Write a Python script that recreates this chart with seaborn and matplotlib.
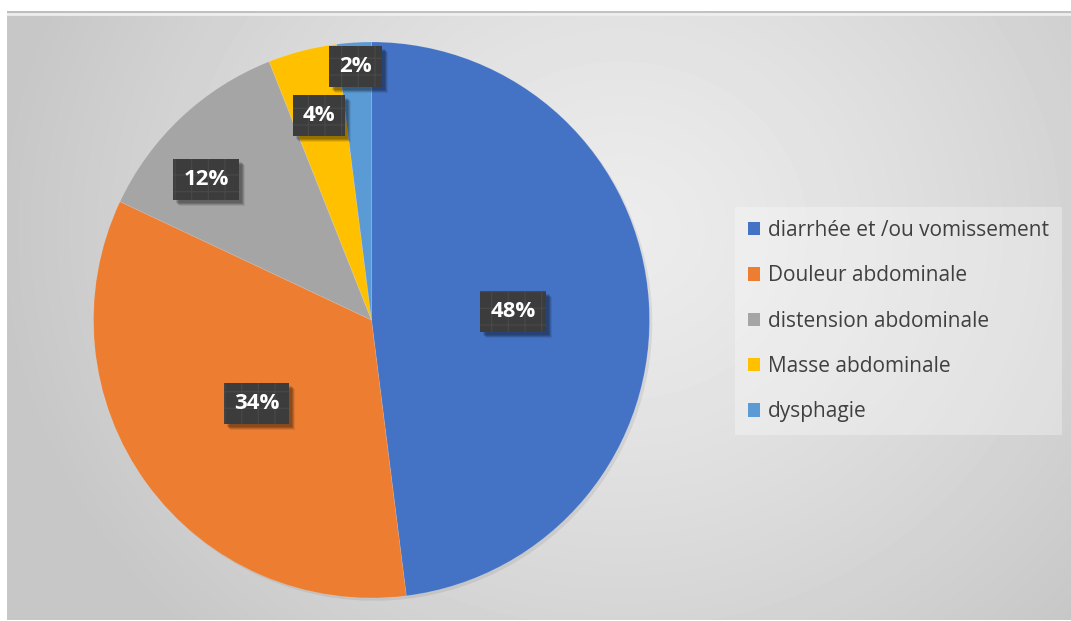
import numpy as np
import matplotlib
matplotlib.use("Agg")
import matplotlib.pyplot as plt
import matplotlib.transforms as mtransforms
from matplotlib.patches import Patch, Rectangle
import seaborn as sns

# Symptom categories and their shares (%)
categories = ["diarrhée et /ou vomissement", "Douleur abdominale",
              "distension abdominale", "Masse abdominale", "dysphagie"]
shares = [48, 34, 12, 4, 2]
pct_labels = ["48%", "34%", "12%", "4%", "2%"]

slice_colors = ["#4472C4", "#ED7D31", "#A5A5A5", "#FFC000", "#5B9BD5"]

sns.set_theme(style="white")
plt.rcParams["font.family"] = ["Open Sans", "DejaVu Sans"]

W, H = 1071, 621
fig = plt.figure(figsize=(W / 100, H / 100), dpi=100)
fig.patch.set_facecolor("white")

# --- chart-area background: soft radial gradient ---
bg_left, bg_top, bg_right, bg_bottom = 7, 11, 1071, 620
bg = fig.add_axes([bg_left / W, 1 - bg_bottom / H,
                   (bg_right - bg_left) / W, (bg_bottom - bg_top) / H])
bg.set_axis_off()
xs = np.arange(bg_left, bg_right)
ys = np.arange(bg_top, bg_bottom)
X, Y = np.meshgrid(xs, ys)
d = np.sqrt(((X - 620) / 620) ** 2 + ((Y - 230) / 560) ** 2)
d = np.clip(d, 0, 1.0)
val = 0.925 - 0.145 * d ** 1.3
bg.imshow(val, cmap="gray", vmin=0, vmax=1, aspect="auto",
          extent=(0, 1, 0, 1), interpolation="bilinear")
bg.set_xlim(0, 1)
bg.set_ylim(0, 1)
# bevel lines along the top edge
bg.axhline(1 - 1.0 / (bg_bottom - bg_top), color="#bdbdbd", lw=1.2)
bg.axhline(1 - 3.0 / (bg_bottom - bg_top), color="#eeeeee", lw=2.0)

# --- pie ---
cx, cy, r = 371.5, 320, 278
ax = fig.add_axes([(cx - r) / W, (H - cy - r) / H, 2 * r / W, 2 * r / H])
ax.set_axis_off()
palette = sns.color_palette(slice_colors)

# soft shadow under the pie
ax.pie(shares, radius=1.0, startangle=90, counterclock=False,
       center=(0.01, -0.01), colors=["#000000"] * len(shares),
       wedgeprops=dict(linewidth=0, alpha=0.07))
wedges, _ = ax.pie(shares, radius=1.0, startangle=90, counterclock=False,
                   colors=palette,
                   wedgeprops=dict(linewidth=0.6, edgecolor=(1, 1, 1, 0.15)))
ax.set_xlim(-1.0, 1.0)
ax.set_ylim(-1.0, 1.0)
ax.set_aspect("equal")
ax.set_autoscale_on(False)

# data labels: dark patterned boxes with white bold text
label_radius = [0.51, 0.51, 0.78, 0.76, 0.915]
angle_nudge = [0, 0, 6.5, 0, 0]
plt.rcParams["hatch.linewidth"] = 0.9
label_texts = []
for w, txt, rr, nud in zip(wedges, pct_labels, label_radius, angle_nudge):
    mid = np.deg2rad((w.theta1 + w.theta2) / 2 + nud)
    t = ax.text(rr * np.cos(mid), rr * np.sin(mid), txt,
                ha="center", va="center", color="white",
                fontsize=16, fontweight="bold", zorder=10,
                bbox=dict(boxstyle="square,pad=0.45", facecolor="#3c3c3c",
                          edgecolor="#484848", linewidth=0, hatch="+"))
    label_texts.append(t)

# drop shadows behind each label box, sized from the rendered boxes
fig.canvas.draw()
pix = mtransforms.IdentityTransform()
for t in label_texts:
    ext = t.get_bbox_patch().get_window_extent()
    for k, a in ((6, 0.08), (5, 0.12), (4, 0.16), (3, 0.12)):
        ax.add_patch(Rectangle((ext.x0 + k, ext.y0 - k), ext.width, ext.height,
                               transform=pix, facecolor=(0, 0, 0, a),
                               edgecolor="none", zorder=9, clip_on=False))

# --- legend ---
handles = [Patch(facecolor=c, edgecolor="none") for c in slice_colors]
leg = fig.legend(handles, categories, loc="upper left",
                 bbox_to_anchor=(735 / W, 1 - 207 / H),
                 frameon=True, fancybox=False, fontsize=15,
                 facecolor="white", framealpha=0.3, edgecolor="none",
                 handlelength=0.6, handleheight=0.6, handletextpad=0.38,
                 labelspacing=1.17, borderpad=0.62, borderaxespad=0)
for t in leg.get_texts():
    t.set_color("#404040")

fig.savefig("out.png", dpi=100, facecolor=fig.get_facecolor())
